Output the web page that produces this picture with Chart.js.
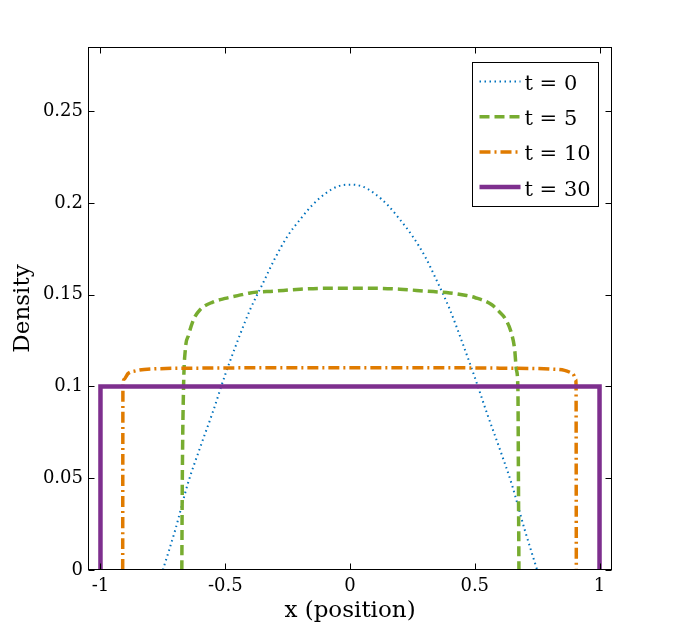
<!DOCTYPE html>
<html>
<head>
<meta charset="utf-8">
<script src="https://cdn.jsdelivr.net/npm/chart.js@4.4.1/dist/chart.umd.min.js"></script>
<style>
  html, body { margin: 0; padding: 0; background: #fff; }
  canvas { display: block; }
</style>
</head>
<body>
<canvas id="densityChart" width="677" height="641"></canvas>
<script>
// values
const xTicks = [-1, -0.5, 0, 0.5, 1];
const xTickLabels = ["-1", "-0.5", "0", "0.5", "1"];
const yTicks = [0, 0.05, 0.1, 0.15, 0.2, 0.25];
const yTickLabels = ["0", "0.05", "0.1", "0.15", "0.2", "0.25"];

const seriesLabels = ["t = 0", "t = 5", "t = 10", "t = 30"];

const t0X = [-0.75, -0.7, -0.65, -0.6, -0.55, -0.5, -0.45, -0.4, -0.35, -0.3, -0.25, -0.2, -0.15, -0.1, -0.05, 0,
             0.05, 0.1, 0.15, 0.2, 0.25, 0.3, 0.35, 0.4, 0.45, 0.5, 0.55, 0.6, 0.65, 0.7, 0.75];
const t0Y = [0, 0.022, 0.047, 0.067, 0.086, 0.1065, 0.125, 0.142, 0.156, 0.17, 0.182, 0.191, 0.199, 0.205, 0.209, 0.21,
             0.209, 0.205, 0.199, 0.191, 0.182, 0.171, 0.157, 0.142, 0.124, 0.105, 0.085, 0.066, 0.046, 0.022, 0];

const t5X = [-0.674, -0.672, -0.667, -0.66, -0.647, -0.627, -0.6, -0.55, -0.5, -0.45, -0.4, -0.3, -0.2, -0.1, 0,
             0.1, 0.2, 0.3, 0.4, 0.467, 0.5, 0.567, 0.6, 0.62, 0.647, 0.66, 0.667, 0.673, 0.675, 0.677];
const t5Y = [0, 0.05, 0.1, 0.12, 0.128, 0.1365, 0.142, 0.146, 0.148, 0.1495, 0.151, 0.152, 0.153, 0.1535, 0.1535,
             0.1535, 0.153, 0.152, 0.151, 0.1496, 0.1485, 0.1447, 0.1405, 0.1374, 0.129, 0.12, 0.109, 0.098, 0.05, 0];

const t10X = [-0.911, -0.91, -0.905, -0.89, -0.86, -0.8, -0.6, -0.3, 0, 0.3, 0.6, 0.8, 0.86, 0.893, 0.905, 0.906, 0.907];
const t10Y = [0, 0.1, 0.104, 0.107, 0.1085, 0.1095, 0.11, 0.1102, 0.1102, 0.1102, 0.11, 0.1095, 0.1088, 0.107, 0.1037, 0.1, 0];

const t30X = [-1, -1, 1, 1];
const t30Y = [0, 0.1, 0.1, 0];

function pairs(xs, ys) {
    return xs.map(function (x, i) { return { x: x, y: ys[i] }; });
}

// box round the plot, ticks pointing inwards on all four sides, legend inside
const framePlugin = {
    id: "frame",
    afterDatasetsDraw: function (chart) {
        const ctx = chart.ctx;
        const a = chart.chartArea;
        const xs = chart.scales.x;
        const ys = chart.scales.y;
        const L = Math.round(a.left) + 0.5, R = Math.round(a.right) - 0.5;
        const T = Math.round(a.top) + 0.5, B = Math.round(a.bottom) - 0.5;
        const tick = 6;

        ctx.save();
        ctx.strokeStyle = "#000";
        ctx.lineWidth = 1;
        ctx.setLineDash([]);
        ctx.strokeRect(L, T, R - L, B - T);

        ctx.beginPath();
        xTicks.forEach(function (v) {
            const px = Math.round(xs.getPixelForValue(v)) + 0.5;
            ctx.moveTo(px, B); ctx.lineTo(px, B - tick);
            ctx.moveTo(px, T); ctx.lineTo(px, T + tick);
        });
        yTicks.forEach(function (v) {
            const py = Math.round(ys.getPixelForValue(v)) + 0.5;
            ctx.moveTo(L, py); ctx.lineTo(L + tick, py);
            ctx.moveTo(R, py); ctx.lineTo(R - tick, py);
        });
        ctx.stroke();

        // legend
        const boxW = 126, boxH = 144;
        const bx = Math.round(a.right - 14 - boxW) + 0.5;
        const by = Math.round(a.top + 15) + 0.5;
        ctx.fillStyle = "#fff";
        ctx.fillRect(bx, by, boxW, boxH);
        ctx.strokeRect(bx, by, boxW, boxH);

        ctx.font = "21px 'DejaVu Serif'";
        ctx.textBaseline = "middle";
        ctx.textAlign = "left";
        chart.data.datasets.forEach(function (ds, i) {
            const rowY = by + 19 + i * 35.2;
            ctx.save();
            ctx.strokeStyle = ds.borderColor;
            ctx.lineWidth = ds.borderWidth;
            ctx.setLineDash(ds.borderDash || []);
            ctx.beginPath();
            ctx.moveTo(bx + 7, rowY);
            ctx.lineTo(bx + 48, rowY);
            ctx.stroke();
            ctx.restore();
            ctx.fillStyle = "#000";
            ctx.fillText(ds.label, bx + 52, rowY + 3);
        });
        ctx.restore();
    }
};

Chart.defaults.font.family = "'DejaVu Serif'";
Chart.defaults.color = "#000";

const ctx = document.getElementById("densityChart").getContext("2d");
new Chart(ctx, {
    type: "scatter",
    data: {
        datasets: [
            {
                label: seriesLabels[0],
                data: pairs(t0X, t0Y),
                borderColor: "#0072BD",
                borderWidth: 2,
                borderDash: [1.5, 3.5],
                cubicInterpolationMode: "monotone",
                order: 3
            },
            {
                label: seriesLabels[1],
                data: pairs(t5X, t5Y),
                borderColor: "#77AC30",
                borderWidth: 3.5,
                borderDash: [10, 5],
                cubicInterpolationMode: "monotone",
                order: 2
            },
            {
                label: seriesLabels[2],
                data: pairs(t10X, t10Y),
                borderColor: "#E07B00",
                borderWidth: 3.5,
                borderDash: [11, 4, 2, 4],
                cubicInterpolationMode: "monotone",
                order: 1
            },
            {
                label: seriesLabels[3],
                data: pairs(t30X, t30Y),
                borderColor: "#7E2F8E",
                borderWidth: 4.5,
                borderDash: [],
                tension: 0,
                order: 0
            }
        ]
    },
    options: {
        responsive: false,
        animation: false,
        showLine: true,
        elements: { point: { radius: 0, hoverRadius: 0 } },
        layout: { padding: { top: 47, right: 65, left: 0, bottom: 0 } },
        plugins: {
            legend: { display: false },
            tooltip: { enabled: false }
        },
        scales: {
            x: {
                type: "linear",
                min: -1.05,
                max: 1.05,
                grid: { display: false, drawTicks: false },
                border: { display: false },
                afterBuildTicks: function (scale) {
                    scale.ticks = xTicks.map(function (v) { return { value: v }; });
                },
                afterFit: function (scale) { scale.height = 71; },
                ticks: {
                    padding: 6,
                    maxRotation: 0,
                    font: { size: 18 },
                    callback: function (v, i) { return xTickLabels[i]; }
                },
                title: {
                    display: true,
                    text: "x (position)",
                    font: { size: 23 },
                    padding: { top: 0, bottom: 16 }
                }
            },
            y: {
                type: "linear",
                min: 0,
                max: 0.285,
                grid: { display: false, drawTicks: false },
                border: { display: false },
                afterBuildTicks: function (scale) {
                    scale.ticks = yTicks.map(function (v) { return { value: v }; });
                },
                afterFit: function (scale) { scale.width = 88; },
                ticks: {
                    padding: 5,
                    font: { size: 18 },
                    callback: function (v, i) { return yTickLabels[i]; }
                },
                title: {
                    display: true,
                    text: "Density",
                    font: { size: 23 },
                    padding: { top: 9, bottom: 0 }
                }
            }
        }
    },
    plugins: [framePlugin]
});
</script>
</body>
</html>
